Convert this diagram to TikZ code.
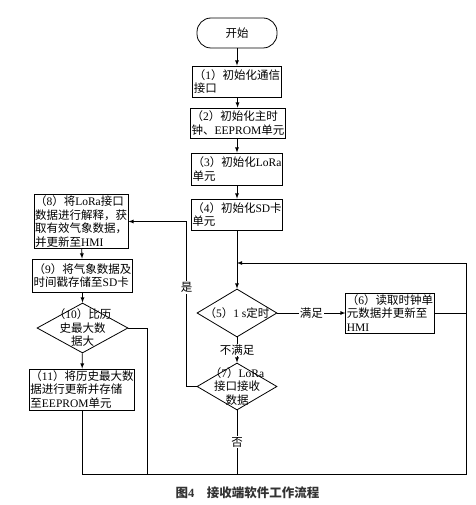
\documentclass[tikz,border=0pt]{standalone}
\usepackage{fontspec}
\setmainfont{Noto Sans CJK SC}
\newfontfamily\enfont{Liberation Serif}
\newcommand\en[1]{{\enfont #1}}
\usetikzlibrary{arrows,positioning,shapes.geometric}

\tikzset{
	proc/.style={draw=black, rectangle, inner sep=1pt, align=left, line width=0.8pt, font=\fontsize{11.5}{13.5}\selectfont},
	term/.style={draw=black, rectangle, rounded corners=14pt, line width=0.8pt, minimum width=80pt, minimum height=30pt, font=\fontsize{11.5}{13.5}\selectfont},
	dia/.style={draw=black, diamond, inner sep=0pt, line width=0.8pt},
	lbl/.style={fill=white, inner sep=1pt, font=\fontsize{11.5}{13.5}\selectfont},
}

\begin{document}
\begin{tikzpicture}[x=1pt,y=-1pt,line width=0.8pt]
				\useasboundingbox (0,0) rectangle (475,505);
				% main column
				\draw (237,33) node[term] (start) {开始};
				\draw (237,81.5) node[proc,minimum width=88pt,minimum height=31pt] (init1) {（\en{1}）初始化通信\\接口};
				\draw (238,123) node[proc,minimum width=90pt,minimum height=30pt] (init2) {（\en{2}）初始化主时\\钟、\en{EEPROM}单元};
				\draw (237,169) node[proc,minimum width=88pt,minimum height=32pt] (init3) {（\en{3}）初始化\en{LoRa}\\单元};
				\draw (237,214.5) node[proc,minimum width=88pt,minimum height=31pt] (init4) {（\en{4}）初始化\en{SD}卡\\单元};
				\draw (237,313) node[dia,minimum width=80pt,minimum height=48pt,
					label={[font=\fontsize{11.5}{13.5}\selectfont]center:（\en{5}）\en{1 s}定时}] (timer) {};
				\draw (390,313) node[proc,minimum width=84pt,minimum height=40pt] (clock) {（\en{6}）读取时钟单\\元数据并更新至\\\en{HMI}};
				\draw (237,386.5) node[dia,minimum width=80pt,minimum height=47pt,
					label={[align=center,font=\fontsize{11.5}{13.5}\selectfont]center:（\en{7}）\en{LoRa}\\接口接收\\数据}] (recv) {};
				% left column
				\draw (81,221.5) node[proc,minimum width=92pt,minimum height=53pt] (parse) {（\en{8}）将\en{LoRa}接口\\数据进行解释，获\\取有效气象数据，\\并更新至\en{HMI}};
				\draw (82.5,275.5) node[proc,minimum width=95pt,minimum height=33pt] (store) {（\en{9}）将气象数据及\\时间戳存储至\en{SD}卡};
				\draw (82.5,328) node[dia,minimum width=91pt,minimum height=50pt,
					label={[align=center,font=\fontsize{11.5}{13.5}\selectfont]center:（\en{10}）比历\\史最大数\\据大}] (cmp) {};
				\draw (82,389.5) node[proc,minimum width=100pt,minimum height=41pt] (save) {（\en{11}）将历史最大数\\据进行更新并存储\\至\en{EEPROM}单元};
				
				\coordinate (back) at (237,263);
				\draw[-latex] (start) -- (init1);
				\draw[-latex] (init1) -- (init2);
				\draw[-latex] (init2.south -| init1) -- (init3);
				\draw[-latex] (init3) -- (init4);
				\draw[-latex] (init4) -- (timer);
				\draw[-latex] (timer) -- (clock) node[midway,lbl] {满足};
				\draw[-latex] (timer) -- (recv) node[midway,lbl] {不满足};
				\draw[-latex] (recv.west) -- ++(-10,0) |- (parse.east) node[pos=0.3,lbl] {是};
				\draw[-latex] (parse) -- (store);
				\draw[-latex] (store) -- (cmp);
				\draw[-latex] (cmp) -- (save);
				\draw (recv.south) -- (237,474) node[pos=0.5,lbl] {否};
				\draw (save.south) -- (82,474) -- (466,474) -- (466,263);
				\draw (cmp.east) -- (147,328) -- (147,474);
				\draw (clock.east) -- (466,313);
				\draw[-latex] (466,263) -- (back);
				
				\node[font=\bfseries\fontsize{12.5}{14}\selectfont, text=black!80] (cap) at (247.5,493) {图\en{\bfseries 4}　接收端软件工作流程};
			\end{tikzpicture}
\end{document}
